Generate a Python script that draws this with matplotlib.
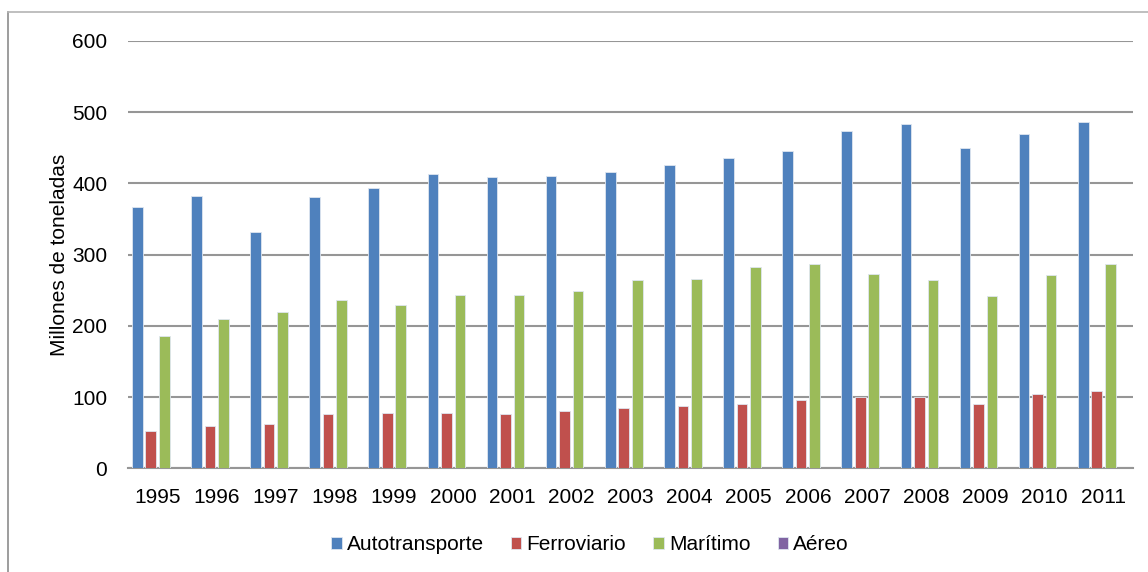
import numpy as np
import matplotlib
matplotlib.use('Agg')
import matplotlib.pyplot as plt
from matplotlib.lines import Line2D

plt.rcParams['font.family'] = ['Liberation Sans', 'DejaVu Sans']

years = ['1995', '1996', '1997', '1998', '1999', '2000', '2001', '2002', '2003',
         '2004', '2005', '2006', '2007', '2008', '2009', '2010', '2011']
autotransporte = [367, 382, 332, 381, 394, 413, 409, 411, 416, 426, 436, 445, 474, 483, 450, 469, 486]
ferroviario = [53, 59, 62, 76, 77, 77, 76, 80, 84, 87, 90, 96, 100, 100, 90, 105, 108]
maritimo = [186, 209, 220, 236, 230, 244, 244, 249, 265, 266, 283, 287, 273, 265, 242, 272, 287]
aereo = [0.4, 0.4, 0.4, 0.5, 0.5, 0.5, 0.5, 0.5, 0.5, 0.6, 0.6, 0.6, 0.6, 0.6, 0.5, 0.6, 0.6]

series = [('Autotransporte', autotransporte, '#4F81BD'),
          ('Ferroviario', ferroviario, '#C0504D'),
          ('Marítimo', maritimo, '#9BBB59'),
          ('Aéreo', aereo, '#8064A2')]

fig = plt.figure(figsize=(11.48, 5.72), dpi=100)
ax = fig.add_axes([128/1148, 1 - 468.3/572, (1133 - 128)/1148, (468.3 - 41)/572])

x = np.arange(len(years))
slot = 0.228
for i, (name, vals, col) in enumerate(series):
    ax.bar(x + (i - 1.5)*slot, vals, width=0.18, color=col, label=name,
           edgecolor='#dfe6f0', linewidth=0.6, zorder=3)

ax.set_xlim(-0.5, len(years) - 0.5)
ax.set_ylim(0, 600)
ax.set_yticks(range(0, 601, 100))
ax.set_xticks(x)
ax.set_xticklabels(years)
ax.tick_params(axis='both', length=0, labelsize=15)
ax.tick_params(axis='x', pad=14)
ax.tick_params(axis='y', pad=15)
ax.grid(axis='y', color='#969696', linewidth=1.5, zorder=0)
for s in ['left', 'right', 'top']:
    ax.spines[s].set_visible(False)
ax.spines['bottom'].set_color('#969696')
ax.spines['bottom'].set_linewidth(1.5)
ax.set_ylabel('Millones de toneladas', fontsize=15, labelpad=2)

fig.legend(loc='center', bbox_to_anchor=(590/1148, 1 - 545/572), ncol=4,
           frameon=False, fontsize=15, handlelength=0.5, handleheight=0.5,
           handletextpad=0.25, columnspacing=1.3)

# chart border (left and top edges visible)
fig.add_artist(Line2D([8/1148, 8/1148], [0, 1 - 12/572], transform=fig.transFigure,
                      color='#8c8c8c', linewidth=1.2))
fig.add_artist(Line2D([8/1148, 1], [1 - 12/572, 1 - 12/572], transform=fig.transFigure,
                      color='#b4b4b4', linewidth=1.2))

fig.savefig('out.png', dpi=100)
